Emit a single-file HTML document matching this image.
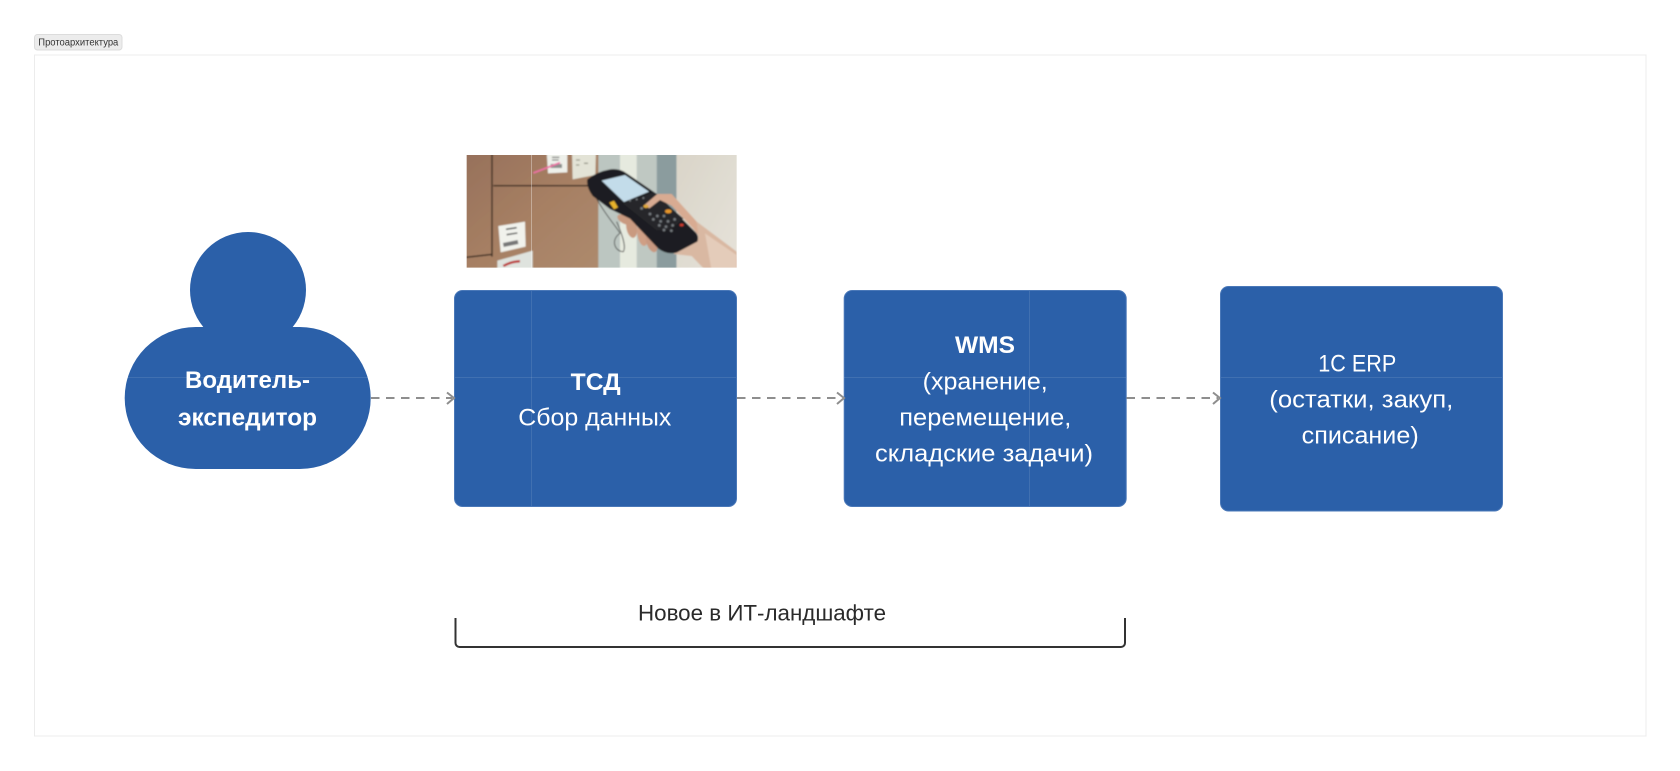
<!DOCTYPE html>
<html lang="ru"><head><meta charset="utf-8"><title>Протоархитектура</title>
<style>html,body{margin:0;padding:0;background:#fff}svg{display:block}text{font-family:"Liberation Sans",sans-serif}</style></head>
<body>
<svg width="1680" height="771" viewBox="0 0 1680 771" xmlns="http://www.w3.org/2000/svg">
<defs>
<clipPath id="ic"><rect x="50" y="45" width="810" height="338"/></clipPath>
<filter id="bl" x="-5%" y="-5%" width="110%" height="110%"><feGaussianBlur stdDeviation="2.4"/></filter>
<linearGradient id="wall" x1="0" y1="0" x2="1" y2="1"><stop offset="0" stop-color="#d9d4c8"/><stop offset="1" stop-color="#e6e3da"/></linearGradient>
<linearGradient id="card" x1="0" y1="0" x2="1" y2="1"><stop offset="0" stop-color="#96705a"/><stop offset=".5" stop-color="#a67f63"/><stop offset="1" stop-color="#ad8a6d"/></linearGradient>
</defs>
<rect width="1680" height="771" fill="#fff"/>
<rect x="34.5" y="55" width="1611.5" height="681" fill="#fff" stroke="#ececec" stroke-width="1"/>
<rect x="34.5" y="34.5" width="87.5" height="15.5" rx="3" fill="#ececec" stroke="#dcdcdc"/>
<text x="38.3" y="45.6" font-size="10" fill="#333" textLength="80" lengthAdjust="spacingAndGlyphs">Протоархитектура</text>

<!-- photo -->
<g transform="translate(450 140) scale(.33333)"><g clip-path="url(#ic)"><g filter="url(#bl)">
<rect x="40" y="35" width="410" height="358" fill="url(#card)"/>
<rect x="445" y="35" width="65" height="358" fill="#bcc6c1"/>
<rect x="510" y="35" width="50" height="358" fill="#e6eadf"/>
<rect x="560" y="35" width="60" height="358" fill="#bfc8c2"/>
<rect x="620" y="35" width="60" height="358" fill="#8b9c9e"/>
<rect x="680" y="35" width="190" height="358" fill="url(#wall)"/>
<path d="M126 35V350M40 353L128 343M130 137H420" stroke="#34261d" stroke-width="4" fill="none"/>
<polygon points="290,35 352,35 352,97 294,100" fill="#eef0ea"/>
<rect x="302" y="72" width="34" height="12" fill="#8b8f8c"/>
<path d="M306 52h22M306 60h20" stroke="#555" stroke-width="3"/>
<polygon points="366,35 438,35 436,105 368,118" fill="#e3e3d6"/>
<path d="M378 60h12M378 75h10M402 70h12" stroke="#9a9a8c" stroke-width="4"/>
<path d="M250 99L330 68" stroke="#f06fa6" stroke-width="5"/>
<polygon points="145,258 225,245 227,320 152,337" fill="#f1f2ec"/>
<path d="M168 268l32-5M170 284l32-5" stroke="#3c3c3c" stroke-width="4"/>
<path d="M160 315l44-9" stroke="#777" stroke-width="12"/>
<polygon points="142,362 248,332 248,393 142,393" fill="#dfe3de"/>
<path d="M160 378q25-14 50-14" stroke="#bb2e2e" stroke-width="7" fill="none"/>
<!-- fingers -->
<ellipse cx="528" cy="240" rx="28" ry="13" transform="rotate(25 528 240)" fill="#c99a80"/>
<ellipse cx="545" cy="262" rx="16" ry="32" transform="rotate(-10 545 262)" fill="#c99a80"/>
<ellipse cx="578" cy="282" rx="16" ry="36" transform="rotate(-8 578 282)" fill="#cf9f85"/>
<ellipse cx="605" cy="308" rx="15" ry="30" transform="rotate(-20 605 308)" fill="#c89880"/>
<!-- hand -->
<polygon points="725,348 670,342 745,295 740,245 860,335 870,393 768,393" fill="#d9b8a2"/>
<polygon points="765,280 860,345 860,393 785,393" fill="#e4ccba"/>
<path d="M438 172C465 225 500 260 510 280C480 300 495 335 520 335C530 320 515 280 500 245" stroke="#3a3a3a" stroke-width="2.5" fill="none"/>
<!-- device -->
<path d="M412 118Q440 95 480 88Q510 85 530 100L625 165L738 278Q748 290 742 305L680 338Q650 345 625 326L540 236L480 207L428 168Q408 140 412 118Z" fill="#1e1f21"/>
<polygon points="455,122 525,105 597,155 522,186" fill="#c3dcea"/>
<polygon points="520,190 610,158 700,235 660,270 620,270" fill="#26282b"/>
<polygon points="478,188 492,182 504,202 492,208" fill="#e8b32a"/>
<ellipse cx="655" cy="214" rx="10" ry="6" fill="#e8962a"/>
<ellipse cx="695" cy="255" rx="6" ry="4" fill="#d03a2e"/>
<g fill="#777c80">
<circle cx="600" cy="222" r="4"/><circle cx="622" cy="228" r="4"/><circle cx="642" cy="228" r="4"/><circle cx="610" cy="238" r="4"/><circle cx="632" cy="244" r="4"/><circle cx="654" cy="244" r="4"/><circle cx="674" cy="238" r="4"/><circle cx="628" cy="256" r="4"/><circle cx="648" cy="260" r="4"/><circle cx="668" cy="256" r="4"/><circle cx="642" cy="270" r="4"/><circle cx="664" cy="272" r="4"/><circle cx="540" cy="182" r="3"/><circle cx="560" cy="178" r="3"/><circle cx="580" cy="174" r="3"/><circle cx="575" cy="205" r="4"/>
</g>
<!-- thumb and back of hand -->
<polygon points="582,196 622,162 665,162 740,245 745,285 728,264 665,197 630,180 598,205" fill="#d8ab92"/>
<ellipse cx="588" cy="199" rx="8" ry="5" fill="#e2a93a"/>
</g></g></g>

<!-- person -->
<circle cx="248" cy="290" r="58" fill="#2b60a9"/>
<rect x="124.7" y="327" width="246" height="142" rx="71" fill="#2b60a9"/>
<!-- boxes -->
<rect x="454.5" y="290.5" width="282" height="216" rx="8" fill="#2b60a9" stroke="#4a78b8"/>
<rect x="844.2" y="290.5" width="282" height="216" rx="8" fill="#2b60a9" stroke="#4a78b8"/>
<rect x="1220.5" y="286.5" width="282" height="224.5" rx="8" fill="#2b60a9" stroke="#4a78b8"/>
<!-- seams -->
<path d="M125 377.5H371M455 377.5H736M844 377.5H1126M1221 377.5H1502" stroke="#fff" stroke-opacity=".1"/>
<path d="M531.5 291V506M1029.5 291V506" stroke="#fff" stroke-opacity=".1"/>
<path d="M531.5 155V268" stroke="#fff" stroke-opacity=".35"/>

<!-- connectors -->
<g fill="none" stroke="#8e8e8e" stroke-width="2">
<path d="M371 398H452M737 398H842M1126.5 398H1218" stroke-dasharray="8.5 6.5"/>
<path d="M447 392.5L454 398L447 404M837 392.5L844 398L837 404M1213 392.5L1220 398L1213 404"/>
</g>

<!-- text -->
<g fill="#fff" font-size="24.5">
<g font-weight="700">
<text x="185" y="388" textLength="125" lengthAdjust="spacingAndGlyphs">Водитель-</text>
<text x="178" y="425.7" textLength="139" lengthAdjust="spacingAndGlyphs">экспедитор</text>
<text x="570.7" y="390" textLength="50" lengthAdjust="spacingAndGlyphs">ТСД</text>
<text x="955" y="353" textLength="60" lengthAdjust="spacingAndGlyphs">WMS</text>
</g>
<text x="518.3" y="425.6" textLength="153" lengthAdjust="spacingAndGlyphs">Сбор данных</text>
<text x="922.7" y="389.3" textLength="125" lengthAdjust="spacingAndGlyphs">(хранение,</text>
<text x="899.3" y="425.7" textLength="172" lengthAdjust="spacingAndGlyphs">перемещение,</text>
<text x="875" y="461.7" textLength="218" lengthAdjust="spacingAndGlyphs">складские задачи)</text>
<text x="1318.3" y="371.7" textLength="78" lengthAdjust="spacingAndGlyphs">1C ERP</text>
<text x="1269.3" y="407.7" textLength="184" lengthAdjust="spacingAndGlyphs">(остатки, закуп,</text>
<text x="1301.7" y="443.3" textLength="117" lengthAdjust="spacingAndGlyphs">списание)</text>
</g>
<text x="638" y="620.7" font-size="22.5" fill="#2a2a2a" textLength="248" lengthAdjust="spacingAndGlyphs">Новое в ИТ-ландшафте</text>

<!-- bracket -->
<path d="M455.5 618V643a4 4 0 0 0 4 4H1121a4 4 0 0 0 4-4V618" fill="none" stroke="#333" stroke-width="2"/>
</svg>
</body></html>
